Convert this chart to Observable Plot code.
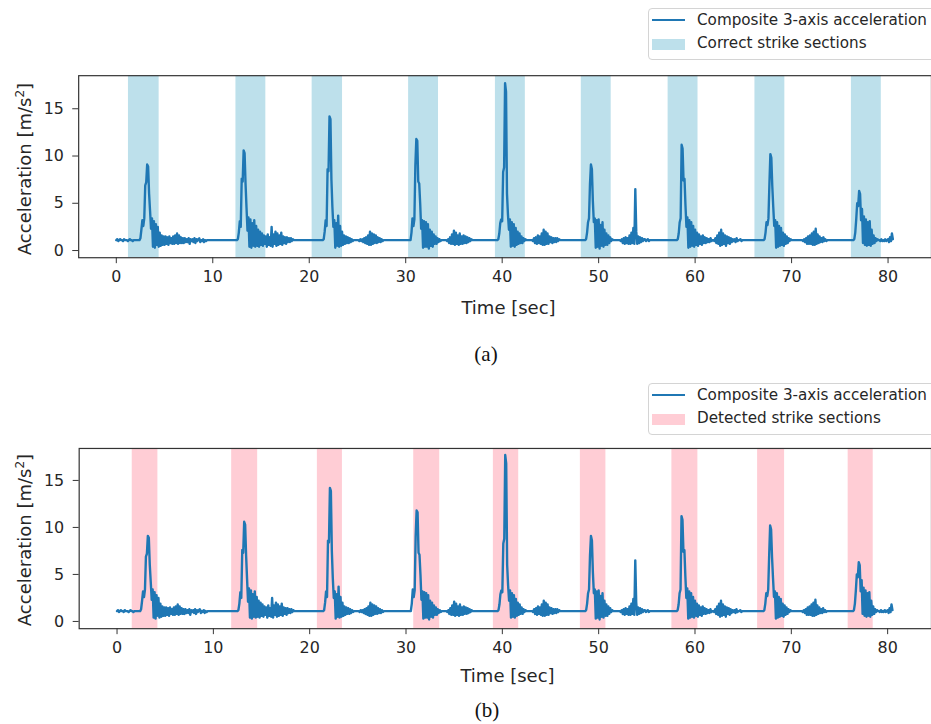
<!DOCTYPE html>
<html>
<head>
<meta charset="utf-8">
<script src="https://cdn.jsdelivr.net/npm/d3@7"></script>
<script src="https://cdn.jsdelivr.net/npm/@observablehq/plot@0.6"></script>
<style>
  html, body { margin: 0; padding: 0; background: #fff; overflow: hidden; }
  #page { position: relative; width: 931px; height: 724px; overflow: hidden; font-family: "DejaVu Sans", sans-serif; color: #262626; }
  .abs { position: absolute; white-space: nowrap; }
  .legend { position: absolute; border: 1px solid #d4d4d4; border-radius: 4px; background: #fff; }
  .lgtext { position: absolute; font-size: 15.2px; line-height: 1; transform: translateY(-50%); white-space: nowrap; }
  .axlabel { position: absolute; font-size: 18px; line-height: 1; transform: translate(-50%, -50%); white-space: nowrap; }
  .ylabel { position: absolute; font-size: 18px; line-height: 1; transform: translate(-50%, -50%) rotate(-90deg); white-space: nowrap; }
  .caption { position: absolute; font-family: "Liberation Serif", serif; font-size: 21px; line-height: 1; transform: translate(-50%, -50%); color: #111; }
</style>
</head>
<body>
<div id="page"></div>
<script>
// ---- data ----
const sampleInterval = 0.1; // seconds between samples
const acceleration = [
  1.1,1.2,1.0,1.1,1.2,1.1,1.1,1.0,1.2,1.1,
  1.1,1.1,1.0,1.1,1.2,1.1,1.1,1.0,1.1,1.1,
  1.1,1.1,1.1,1.1,1.1,1.3,2.2,3.2,2.6,3.4,
  6.9,7.2,9.1,8.9,6.0,4.2,2.3,3.4,0.4,3.1,
  0.3,2.8,0.6,2.5,0.4,1.9,0.5,1.6,0.6,1.5,
  0.6,1.5,0.7,1.4,0.6,1.5,0.8,1.3,0.7,1.5,
  0.7,1.6,0.8,1.8,0.7,1.6,0.8,1.4,0.8,1.3,
  0.8,1.3,0.9,1.2,0.9,1.3,0.7,1.2,1.0,1.2,
  0.9,1.3,0.8,1.2,1.0,1.2,1.3,0.9,1.1,1.0,
  1.2,0.9,1.1,1.0,1.1,1.1,1.1,1.1,1.1,1.1,
  1.1,1.1,1.1,1.1,1.1,1.1,1.1,1.1,1.1,1.1,
  1.1,1.1,1.1,1.1,1.1,1.1,1.1,1.1,1.1,1.1,
  1.1,1.1,1.1,1.1,1.1,1.1,1.2,1.9,3.1,2.5,
  7.6,7.3,10.6,10.3,7.0,4.5,2.1,3.5,0.4,3.3,
  0.3,2.9,0.5,3.2,0.4,2.6,0.5,2.2,0.4,2.0,
  0.6,1.8,0.5,1.6,0.7,1.5,0.4,1.7,0.6,1.4,
  0.5,2.5,0.4,1.7,0.7,2.0,0.5,1.8,0.6,1.6,
  0.7,1.9,0.6,1.5,0.8,1.4,0.7,1.4,0.9,1.3,
  0.9,1.3,1.0,1.2,1.1,1.1,1.1,1.1,1.1,1.1,
  1.1,1.1,1.1,1.1,1.1,1.1,1.1,1.1,1.1,1.1,
  1.1,1.1,1.1,1.1,1.1,1.1,1.1,1.1,1.1,1.1,
  1.1,1.1,1.1,1.1,1.1,1.2,2.0,3.2,2.6,8.6,
  8.4,14.2,13.9,7.5,4.6,2.5,3.2,0.3,2.9,0.5,
  3.7,0.4,2.6,0.5,2.0,0.6,1.6,0.7,1.5,0.8,
  1.4,0.8,1.3,0.9,1.2,1.0,1.1,1.1,1.1,1.1,
  1.1,1.1,1.0,1.2,1.0,1.2,0.9,1.3,0.8,1.4,
  0.7,1.6,0.6,2.0,0.6,1.8,0.7,1.7,0.8,1.6,
  0.8,1.4,0.9,1.3,0.9,1.2,1.0,1.1,1.1,1.1,
  1.1,1.1,1.1,1.1,1.1,1.1,1.1,1.1,1.1,1.1,
  1.1,1.1,1.1,1.1,1.1,1.1,1.1,1.1,1.1,1.1,
  1.1,1.1,1.1,1.1,1.1,1.1,1.9,3.4,2.6,3.3,
  9.0,11.8,11.6,7.3,7.1,5.0,2.3,3.2,0.3,3.1,
  0.4,3.0,0.4,2.8,0.2,2.2,0.5,2.0,0.4,1.7,
  0.7,1.5,0.7,1.3,0.9,1.2,1.0,1.1,1.1,1.1,
  1.1,1.1,1.1,1.0,1.2,0.8,1.4,0.7,1.7,0.7,
  2.1,0.6,1.9,0.7,1.6,0.6,1.8,0.7,1.5,0.7,
  1.6,0.8,1.5,0.8,1.4,0.9,1.3,1.0,1.2,1.1,
  1.1,1.1,1.1,1.1,1.1,1.1,1.1,1.1,1.1,1.1,
  1.1,1.1,1.1,1.1,1.1,1.1,1.1,1.1,1.1,1.1,
  1.1,1.1,1.1,1.1,1.1,1.1,1.2,1.8,2.9,3.3,
  3.1,8.3,8.8,17.7,16.8,6.0,3.8,2.2,3.3,0.4,
  3.0,0.5,2.8,0.4,2.4,0.6,2.0,0.7,1.8,0.8,
  1.5,0.8,1.3,1.0,1.2,1.1,1.1,1.1,1.1,1.1,
  1.1,1.1,1.0,1.3,0.8,1.4,0.7,1.6,0.8,1.5,
  0.7,1.8,0.6,2.2,0.6,2.0,0.7,1.8,0.7,1.5,
  0.9,1.4,0.8,1.3,0.9,1.3,0.9,1.3,1.0,1.2,
  1.1,1.1,1.1,1.1,1.1,1.1,1.1,1.1,1.1,1.1,
  1.1,1.1,1.1,1.1,1.1,1.1,1.1,1.1,1.1,1.1,
  1.1,1.1,1.1,1.1,1.1,1.1,1.1,1.2,1.9,3.0,
  3.4,7.0,9.1,8.6,5.2,3.0,3.4,0.3,3.2,0.4,
  3.3,0.2,2.7,0.5,3.0,0.4,2.2,0.6,1.8,0.6,
  1.6,0.8,1.4,1.0,1.2,1.1,1.1,1.1,1.1,1.1,
  1.1,1.1,1.1,1.0,1.2,0.8,1.3,0.7,1.4,0.8,
  1.3,0.7,1.6,0.7,1.9,0.8,2.4,0.7,6.5,2.0,
  0.7,1.5,0.8,1.4,0.9,1.3,1.0,1.2,1.2,1.0,
  1.1,1.2,1.0,1.1,1.1,1.1,1.1,1.1,1.1,1.1,
  1.1,1.1,1.1,1.1,1.1,1.1,1.1,1.1,1.1,1.1,
  1.1,1.1,1.1,1.1,1.1,1.1,1.1,1.1,1.1,1.1,
  1.1,1.1,1.2,1.8,3.0,3.4,11.2,10.8,7.4,7.6,
  4.8,2.5,3.5,0.3,3.2,0.4,3.0,0.5,2.6,0.4,
  2.2,0.6,1.9,0.5,1.7,0.7,1.5,0.6,1.6,0.8,
  1.4,0.8,1.3,0.9,1.2,0.9,1.3,1.0,1.1,1.1,
  1.0,1.3,0.8,1.6,0.7,1.9,0.5,2.2,0.6,1.8,
  0.7,1.6,0.5,1.5,0.8,1.4,0.7,1.3,0.9,1.2,
  1.0,1.2,0.9,1.3,1.0,1.1,1.1,1.2,1.0,1.1,
  1.1,1.1,1.1,1.1,1.1,1.1,1.1,1.1,1.1,1.1,
  1.1,1.1,1.1,1.1,1.1,1.1,1.1,1.1,1.1,1.1,
  1.1,1.1,1.2,1.9,3.0,2.7,3.4,7.0,10.2,9.8,
  6.8,4.6,2.6,3.2,0.3,3.0,0.4,2.6,0.5,2.4,
  0.6,1.9,0.5,1.7,0.7,1.5,0.8,1.3,1.0,1.2,
  1.1,1.1,1.1,1.1,1.1,1.1,1.1,1.1,1.1,1.1,
  1.1,1.1,1.0,1.2,0.9,1.3,0.7,1.5,0.7,1.6,
  0.7,1.8,0.6,2.0,0.6,2.3,0.7,1.7,0.8,1.5,
  0.9,1.3,0.9,1.4,1.0,1.2,1.0,1.1,1.1,1.1,
  1.1,1.1,1.1,1.1,1.1,1.1,1.1,1.1,1.1,1.1,
  1.1,1.1,1.1,1.1,1.1,1.1,1.1,1.1,1.1,1.1,
  1.1,1.1,1.1,1.1,1.1,1.2,1.9,3.3,5.0,4.7,
  6.3,6.0,3.2,4.4,0.8,3.6,0.6,3.3,0.5,3.0,
  0.6,3.1,0.5,2.2,0.7,1.6,0.8,1.3,1.0,1.2,
  1.1,1.1,1.0,1.2,1.0,1.1,1.0,1.2,1.0,1.1,
  1.2,0.9,1.4,1.0,1.8,1.2
];
const correctStart  = [1.26, 12.4, 20.3, 30.3, 39.3, 48.2, 57.2, 66.2, 76.2];
const correctEnd    = [4.44, 15.5, 23.45, 33.4, 42.4, 51.3, 60.3, 69.3, 79.3];
const detectedStart = [1.58, 11.9, 20.8, 30.8, 39.07, 48.1, 57.6, 66.5, 75.9];
const detectedEnd   = [4.24, 14.6, 23.4, 33.5, 41.7, 50.75, 60.3, 69.3, 78.5];
const xTicks = [0, 10, 20, 30, 40, 50, 60, 70, 80];
const yTicks = [0, 5, 10, 15];
const lineLabel = "Composite 3-axis acceleration";
const correctLabel = "Correct strike sections";
const detectedLabel = "Detected strike sections";
const xLabel = "Time [sec]";

// ---- build tables ----
const signal = acceleration.map((a, i) => ({t: +(i * sampleInterval).toFixed(2), a}));
const correct = correctStart.map((s, i) => ({start: s, end: correctEnd[i]}));
const detected = detectedStart.map((s, i) => ({start: s, end: detectedEnd[i]}));

const LINE_COLOR = "#1f77b4";
const page = document.getElementById("page");

function makePlot(cfg) {
  const chart = Plot.plot({
    width: cfg.width,
    height: 300,
    marginLeft: 79,
    marginRight: 0,
    marginTop: cfg.marginTop,
    marginBottom: 300 - (cfg.frameBottom - cfg.top),
    style: {fontFamily: "DejaVu Sans, sans-serif", fontSize: "16px", color: "#262626", background: "transparent", overflow: "visible"},
    x: {domain: cfg.xDomain},
    y: {domain: cfg.yDomain},
    marks: [
      Plot.rect(cfg.bands, {x1: "start", x2: "end", fill: cfg.bandColor, fillOpacity: 0.8}),
      Plot.line(signal, {x: "t", y: "a", stroke: LINE_COLOR, strokeWidth: 2.4}),
      Plot.frame({stroke: "#333", strokeWidth: 1.2}),
      Plot.axisX({ticks: xTicks, tickSize: 6, tickPadding: 7, label: null, fontSize: 16, stroke: "#333"}),
      Plot.axisY({ticks: yTicks, tickSize: 6, tickPadding: 9, label: null, fontSize: 16, stroke: "#333"})
    ]
  });
  chart.style.position = "absolute";
  chart.style.left = "0px";
  chart.style.top = cfg.top + "px";
  page.appendChild(chart);
}

makePlot({top: 0, width: 941, marginTop: 76, frameBottom: 260,
  xDomain: [-3.9, 84.5], yDomain: [-0.76, 18.5], bands: correct, bandColor: "lightblue"});
makePlot({top: 370, width: 935, marginTop: 78.3, frameBottom: 629.3,
  xDomain: [-3.93, 84.55], yDomain: [-0.77, 18.4], bands: detected, bandColor: "pink"});

function addEl(cls, left, top, html, extra) {
  const d = document.createElement("div");
  d.className = cls;
  d.style.left = left + "px";
  d.style.top = top + "px";
  d.innerHTML = html;
  if (extra) Object.assign(d.style, extra);
  page.appendChild(d);
  return d;
}

function legend(top, patchColor, label) {
  addEl("legend", 648, top, "", {width: "320px", height: "50px"});
  addEl("abs", 652, top + 10.5, "", {width: "33px", height: "0px", borderTop: "2.5px solid " + LINE_COLOR});
  addEl("lgtext", 697, top + 12.5, lineLabel);
  addEl("abs", 652, top + 31, "", {width: "33px", height: "11px", background: patchColor, opacity: 0.8});
  addEl("lgtext", 697, top + 36, label);
}
legend(8, "lightblue", correctLabel);
legend(383, "pink", detectedLabel);

addEl("ylabel", 24, 169, "Acceleration [m/s<sup style='font-size:12px'>2</sup>]");
addEl("ylabel", 24, 540, "Acceleration [m/s<sup style='font-size:12px'>2</sup>]");
addEl("axlabel", 508.5, 308, xLabel);
addEl("axlabel", 507.5, 676, xLabel);
addEl("caption", 486, 354, "(a)");
addEl("caption", 487, 710, "(b)");
</script>
</body>
</html>
